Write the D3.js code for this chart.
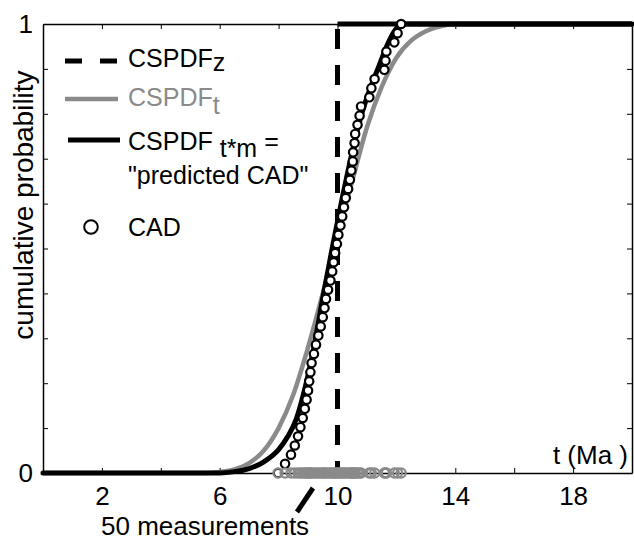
<!DOCTYPE html>
<html>
<head>
<meta charset="utf-8">
<script src="https://cdn.jsdelivr.net/npm/d3@7"></script>
<style>
body { margin: 0; background: #fff; }
text { font-family: Arial, "Liberation Sans", Helvetica, sans-serif; fill: #000; }
</style>
</head>
<body>
<div id="chart"></div>
<script>
// values
var gridT = [0, 5.5, 6.0, 6.5, 7.0, 7.5, 8.0, 8.5, 9.0, 9.5, 10.0, 10.5, 11.0, 11.5, 12.0, 12.5, 13.0, 13.5, 14.0, 20];
var cspdfT = [0, 0, 0.002, 0.008, 0.022, 0.05, 0.1, 0.175, 0.28, 0.4, 0.53, 0.65, 0.77, 0.86, 0.925, 0.963, 0.984, 0.995, 1, 1];

var gridPred = [0, 6.0, 6.5, 7.0, 7.5, 8.0, 8.3, 8.6, 8.9, 9.2, 9.5, 9.83, 10.17, 10.5, 10.8, 11.1, 11.4, 11.7, 12.0, 12.3, 20];
var cspdfPred = [0, 0, 0.003, 0.01, 0.025, 0.052, 0.08, 0.12, 0.19, 0.28, 0.39, 0.504, 0.615, 0.715, 0.795, 0.855, 0.905, 0.955, 0.99, 1, 1];

var stepZ = 10;

var cadT = [7.98, 8.22, 8.42, 8.55, 8.66, 8.74, 8.82, 8.89, 8.95, 9.0,
            9.04, 9.08, 9.12, 9.2, 9.27, 9.35, 9.43, 9.5, 9.56, 9.61,
            9.68, 9.76, 9.82, 9.87, 9.92, 9.98, 10.03, 10.1, 10.16, 10.22,
            10.28, 10.36, 10.42, 10.47, 10.52, 10.53, 10.58, 10.6, 10.68, 10.75,
            10.8, 11.08, 11.15, 11.26, 11.59, 11.63, 11.66, 11.93, 12.04, 12.16];

var xTicks = [0, 2, 4, 6, 8, 10, 12, 14, 16, 18, 20];
var xLabels = [2, 6, 10, 14, 18];
var yTicks = [0, 0.1, 0.2, 0.3, 0.4, 0.5, 0.6, 0.7, 0.8, 0.9, 1];
var yLabels = [0, 1];

var w = 634;
var h = 540;
var plotL = 43, plotR = 632, plotT = 24, plotB = 473;
var grey = "#8a8a8a";

var svg = d3.select("#chart").append("svg")
    .attr("width", w)
    .attr("height", h);

var x = d3.scaleLinear().domain([0, 20]).range([plotL, plotR]);
var y = d3.scaleLinear().domain([0, 1]).range([plotB, plotT]);

function drawAxes() {
    var fmtX = function(d) { return xLabels.indexOf(d) >= 0 ? d : ""; };
    var fmtY = function(d) { return yLabels.indexOf(d) >= 0 ? d : ""; };

    var gb = svg.append("g").attr("transform", "translate(0," + plotB + ")")
        .call(d3.axisBottom(x).tickValues(xTicks).tickFormat(fmtX).tickSizeInner(-5).tickSizeOuter(0).tickPadding(14));
    var gt = svg.append("g").attr("transform", "translate(0," + plotT + ")")
        .call(d3.axisTop(x).tickValues(xTicks).tickFormat("").tickSizeInner(-5).tickSizeOuter(0));
    var gl = svg.append("g").attr("transform", "translate(" + plotL + ",0)")
        .call(d3.axisLeft(y).tickValues(yTicks).tickFormat(fmtY).tickSizeInner(-5).tickSizeOuter(0).tickPadding(10));
    var gr = svg.append("g").attr("transform", "translate(" + plotR + ",0)")
        .call(d3.axisRight(y).tickValues(yTicks).tickFormat("").tickSizeInner(-5).tickSizeOuter(0));

    [gb, gt, gl, gr].forEach(function(g) {
        g.select(".domain").attr("stroke", "#000").attr("stroke-width", 1.5);
        g.selectAll(".tick line").attr("stroke", "#000").attr("stroke-width", 1);
        g.selectAll("text").attr("font-size", 26).attr("font-family", null).attr("fill", "#000");
    });

    svg.append("text")
        .attr("transform", "translate(23,205) rotate(-90)")
        .attr("text-anchor", "middle")
        .attr("font-size", 28)
        .attr("dy", "0.35em")
        .text("cumulative  probability");

    svg.append("text")
        .attr("x", 628).attr("y", 464)
        .attr("text-anchor", "end")
        .attr("font-size", 26)
        .text("t (Ma )");
}

function drawCurves() {
    var line = d3.line()
        .x(function(d) { return x(d[0]); })
        .y(function(d) { return y(d[1]); })
        .curve(d3.curveMonotoneX);

    svg.append("path")
        .datum(d3.zip(gridT, cspdfT))
        .attr("d", line)
        .attr("fill", "none")
        .attr("stroke", grey)
        .attr("stroke-width", 4.5);

    svg.append("path")
        .datum(d3.zip(gridPred, cspdfPred))
        .attr("d", line)
        .attr("fill", "none")
        .attr("stroke", "#000")
        .attr("stroke-width", 5)
        .attr("stroke-linecap", "round");

    // CSPDF_z step: dashed rise, then flat at 1
    svg.append("line")
        .attr("x1", x(stepZ)).attr("y1", y(1))
        .attr("x2", x(stepZ)).attr("y2", y(0))
        .attr("stroke", "#000")
        .attr("stroke-width", 5)
        .attr("stroke-dasharray", "20,16")
        .attr("stroke-dashoffset", 31);
    svg.append("line")
        .attr("x1", x(stepZ)).attr("y1", y(1))
        .attr("x2", x(20)).attr("y2", y(1))
        .attr("stroke", "#000")
        .attr("stroke-width", 5);
}

function drawPoints() {
    var n = cadT.length;
    svg.append("g").selectAll("circle")
        .data(cadT)
        .enter().append("circle")
        .attr("cx", function(d) { return x(d); })
        .attr("cy", function(d, i) { return y(i / (n - 1)); })
        .attr("r", 4.2)
        .attr("fill", "#fff")
        .attr("stroke", "#000")
        .attr("stroke-width", 2.2);

    svg.append("g").selectAll("circle")
        .data(cadT)
        .enter().append("circle")
        .attr("cx", function(d) { return x(d); })
        .attr("cy", y(0))
        .attr("r", 4.6)
        .attr("fill", "none")
        .attr("stroke", grey)
        .attr("stroke-width", 2.2);

    svg.append("line")
        .attr("x1", 297).attr("y1", 512)
        .attr("x2", 313).attr("y2", 488)
        .attr("stroke", "#000")
        .attr("stroke-width", 5);

    svg.append("text")
        .attr("x", 101).attr("y", 535)
        .attr("font-size", 26)
        .text("50 measurements");
}

function drawLegend() {
    var lx = 128;
    var fs = 25;

    svg.append("line")
        .attr("x1", 65).attr("y1", 61).attr("x2", 118).attr("y2", 61)
        .attr("stroke", "#000").attr("stroke-width", 5)
        .attr("stroke-dasharray", "17,18");
    var t1 = svg.append("text").attr("x", lx).attr("y", 67).attr("font-size", fs);
    t1.append("tspan").text("CSPDF");
    t1.append("tspan").attr("dy", 4).text("z");

    svg.append("line")
        .attr("x1", 65).attr("y1", 99).attr("x2", 118).attr("y2", 99)
        .attr("stroke", grey).attr("stroke-width", 4.5);
    var t2 = svg.append("text").attr("x", lx).attr("y", 106).attr("font-size", fs).style("fill", grey);
    t2.append("tspan").text("CSPDF");
    t2.append("tspan").attr("dy", 8).text("t");

    svg.append("line")
        .attr("x1", 68).attr("y1", 140).attr("x2", 120).attr("y2", 140)
        .attr("stroke", "#000").attr("stroke-width", 5);
    var t3 = svg.append("text").attr("x", lx).attr("y", 150).attr("font-size", fs);
    t3.append("tspan").text("CSPDF ");
    t3.append("tspan").attr("dy", 7).text("t*m");
    t3.append("tspan").attr("dy", -7).text(" =");
    svg.append("text").attr("x", lx).attr("y", 184).attr("font-size", fs)
        .text("\"predicted CAD\"");

    svg.append("circle")
        .attr("cx", 91).attr("cy", 227).attr("r", 6.8)
        .attr("fill", "#fff").attr("stroke", "#000").attr("stroke-width", 2);
    svg.append("text").attr("x", lx).attr("y", 236).attr("font-size", fs).text("CAD");
}

drawAxes();
drawCurves();
drawPoints();
drawLegend();
</script>
</body>
</html>
